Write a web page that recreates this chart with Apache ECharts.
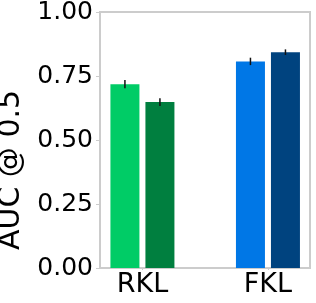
<!DOCTYPE html>
<html><head><meta charset="utf-8">
<script src="https://cdn.jsdelivr.net/npm/echarts@6/dist/echarts.min.js"></script>
<style>html,body{margin:0;padding:0;background:#fff}#c{width:316px;height:303px}</style>
</head><body><div id="c"></div>
<script>
var categories = ['RKL', 'FKL'];
var seriesNames = ['RKL-a', 'RKL-b', 'FKL-a', 'FKL-b'];
var values = [0.718, 0.648, 0.807, 0.843];
var errors = [0.016, 0.015, 0.0145, 0.011];
var groupOf = [0, 0, 1, 1];
var slotOf = [0, 1, 0, 1];
var colors = ['#00cc66', '#007f3f', '#0077e6', '#00437f'];
var yTicks = [0, 0.25, 0.5, 0.75, 1.0];
var yLabel = 'AUC @ 0.5';

var BW = 29, GAP = 6;
var series = [];
for (var i = 0; i < values.length; i++) {
  var g = groupOf[i];
  series.push({
    type: 'custom',
    name: seriesNames[i],
    data: [[g, values[i], errors[i], slotOf[i]]],
    renderItem: (function (col) {
      return function (params, api) {
        var x = api.value(0), y = api.value(1), e = api.value(2), s = api.value(3);
        var base = api.coord([x, 0]);
        var top = api.coord([x, y]);
        var off = s === 0 ? -(GAP / 2 + BW) : GAP / 2;
        var cx = base[0] + off + BW / 2;
        var e1 = api.coord([x, y + e]), e2 = api.coord([x, y - e]);
        return {
          type: 'group',
          children: [
            { type: 'rect', shape: { x: base[0] + off, y: top[1], width: BW, height: base[1] - top[1] }, style: { fill: col } },
            { type: 'line', shape: { x1: cx, y1: e1[1], x2: cx, y2: e2[1] }, style: { stroke: '#111', lineWidth: 1.5 } }
          ]
        };
      };
    })(colors[i])
  });
}

var chart = echarts.init(document.getElementById('c'), null, { renderer: 'canvas' });
chart.setOption({
  animation: false,
  grid: { left: 100, right: 6, top: 12, bottom: 35, show: true, borderColor: '#cccccc', borderWidth: 2, outerBoundsMode: 'none', containLabel: false },
  xAxis: {
    type: 'value', min: -0.338, max: 1.335, scale: true,
    splitLine: { show: false },
    axisLine: { show: true, onZero: false, lineStyle: { color: '#cccccc', width: 2 } },
    axisTick: { show: true, customValues: [0, 1], length: 2, lineStyle: { color: '#cccccc' } },
    axisLabel: {
      customValues: [0, 1], margin: 3,
      formatter: function (v) { return categories[Math.round(v)]; },
      color: '#000', fontFamily: 'DejaVu Sans', fontSize: 27
    }
  },
  yAxis: {
    type: 'value', min: 0, max: 1, interval: 0.25,
    splitLine: { show: false },
    axisLine: { show: true, onZero: false, lineStyle: { color: '#cccccc', width: 2 } },
    axisTick: { show: true, length: 4, lineStyle: { color: '#cccccc' } },
    axisLabel: {
      customValues: yTicks, margin: 7,
      formatter: function (v) { return v.toFixed(2); },
      color: '#000', fontFamily: 'DejaVu Sans', fontSize: 25
    },
    name: yLabel, nameLocation: 'middle', nameGap: 64, nameRotate: 90,
    nameTextStyle: { color: '#000', fontFamily: 'DejaVu Sans', fontSize: 30, padding: [0, 60, 0, 0] }
  },
  series: series
});
</script></body></html>
